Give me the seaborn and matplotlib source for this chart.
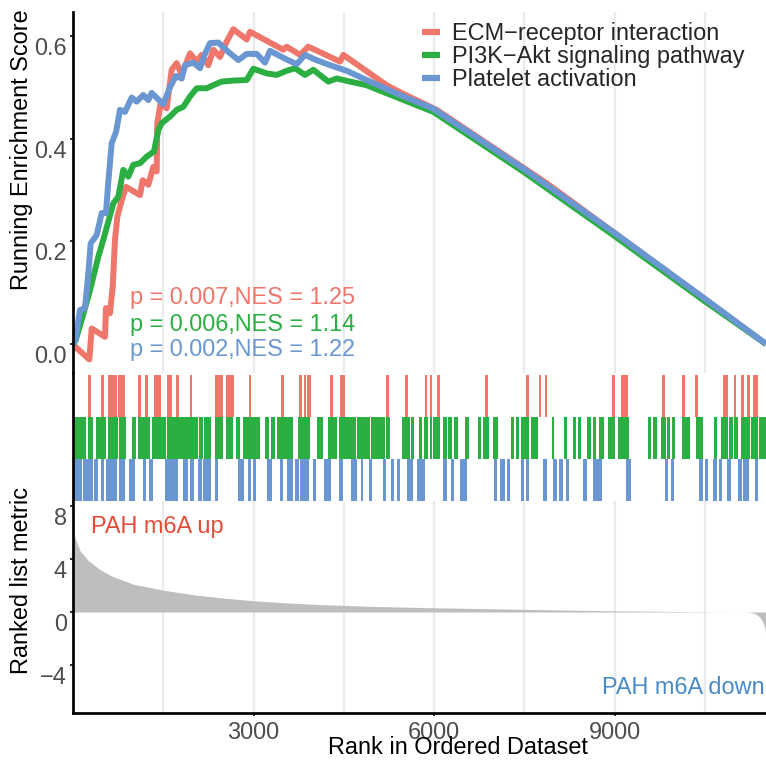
import numpy as np
import pandas as pd
import matplotlib
matplotlib.use("Agg")
import matplotlib.pyplot as plt
import matplotlib.transforms as mtransforms
from matplotlib.lines import Line2D
import seaborn as sns

# ---------------- data ----------------
N_GENES = 11518

gene_sets = ["ECM\u2212receptor interaction", "PI3K\u2212Akt signaling pathway", "Platelet activation"]
set_colors = ["#EE766B", "#2BAE42", "#6A97D2"]
p_values = ["0.007", "0.006", "0.002"]
nes_values = ["1.25", "1.14", "1.22"]

# running enrichment score (rank, ES)
ecm_curve = [(1, 0.0), (61, -0.008), (271, -0.030), (311, 0.030), (532, 0.014), (548, 0.070),
             (615, 0.060), (660, 0.112), (698, 0.203), (737, 0.248), (809, 0.280), (881, 0.306),
             (1113, 0.290), (1158, 0.319), (1252, 0.310), (1335, 0.345), (1391, 0.336),
             (1401, 0.430), (1457, 0.469), (1557, 0.459), (1640, 0.534), (1723, 0.547),
             (1806, 0.524), (1945, 0.566), (2056, 0.550), (2139, 0.563), (2249, 0.543),
             (2332, 0.573), (2443, 0.559), (2554, 0.589), (2664, 0.613), (2887, 0.593),
             (2942, 0.608), (3496, 0.573), (3551, 0.579), (3773, 0.563), (3911, 0.579),
             (4438, 0.550), (4493, 0.563), (5213, 0.504), (5440, 0.490), (6044, 0.456),
             (6876, 0.391), (7873, 0.313), (8980, 0.218), (10504, 0.087), (11518, 0.0)]

pi3k_curve = [(1, 0.0), (40, 0.006), (144, 0.047), (283, 0.105), (421, 0.170), (504, 0.203),
              (670, 0.274), (753, 0.287), (836, 0.339), (919, 0.326), (1002, 0.349),
              (1113, 0.352), (1225, 0.365), (1346, 0.375), (1418, 0.417), (1474, 0.430),
              (1612, 0.443), (1723, 0.456), (1834, 0.462), (1945, 0.482), (2056, 0.498),
              (2222, 0.498), (2332, 0.504), (2471, 0.511), (2664, 0.513), (2887, 0.514),
              (2997, 0.536), (3219, 0.527), (3385, 0.524), (3551, 0.532), (3690, 0.537),
              (3856, 0.524), (3994, 0.534), (4243, 0.511), (4383, 0.517), (4604, 0.511),
              (4881, 0.504), (5047, 0.496), (5435, 0.478), (5990, 0.452), (7480, 0.336),
              (8980, 0.212), (10504, 0.083), (11518, 0.0)]

platelet_curve = [(1, 0.0), (40, 0.008), (116, 0.066), (199, 0.070), (255, 0.138), (294, 0.196),
                  (393, 0.212), (477, 0.255), (548, 0.255), (587, 0.316), (643, 0.391),
                  (715, 0.413), (781, 0.456), (864, 0.452), (976, 0.480), (1058, 0.472),
                  (1169, 0.485), (1252, 0.475), (1307, 0.489), (1501, 0.467), (1612, 0.500),
                  (1712, 0.522), (1806, 0.517), (1861, 0.543), (2000, 0.548), (2111, 0.537),
                  (2194, 0.565), (2277, 0.586), (2415, 0.587), (2581, 0.569), (2748, 0.553),
                  (2887, 0.565), (3053, 0.565), (3191, 0.548), (3274, 0.571), (3551, 0.554),
                  (3718, 0.545), (3856, 0.563), (4022, 0.554), (4271, 0.543), (4549, 0.532),
                  (4881, 0.514), (5435, 0.485), (5990, 0.458), (7480, 0.342), (8980, 0.218),
                  (10504, 0.088), (11518, 0.0)]

# gene-set hit positions (ranks); ECM as single hits, others as runs of adjacent hits
ecm_hits = [271, 494, 603, 643, 670, 715, 770, 810, 848, 1102, 1225, 1374, 1408, 1446, 1591,
            1629, 1741, 1961, 2377, 2422, 2472, 2571, 2621, 2654, 2942, 3485, 3784, 3856, 3906,
            3939, 4300, 4466, 4492, 5224, 5546, 5867, 5950, 6071, 6876, 7557, 7761, 7861, 8980,
            9136, 9174, 9202, 9811, 10143, 10366, 10820, 10865, 11002, 11124, 11223, 11318, 11363]

pi3k_runs = [(17, 216), (254, 327), (382, 548), (577, 753), (770, 876), (976, 1047), (1085, 1280),
             (1308, 1546), (1567, 2083), (2099, 2156), (2177, 2289), (2360, 2488), (2538, 2654),
             (2704, 2776), (2820, 3108), (3191, 3263), (3286, 3357), (3386, 3651), (3745, 3939),
             (4060, 4150), (4233, 4393), (4426, 4703), (4715, 4881), (4891, 4936), (4948, 5185),
             (5202, 5268), (5463, 5601), (5613, 5667), (5751, 5805), (5839, 5905), (5933, 5962),
             (5978, 6100), (6154, 6211), (6238, 6304), (6332, 6404), (6515, 6586), (6726, 6776),
             (6809, 6919), (6985, 7059), (7280, 7334), (7363, 7418), (7441, 7584), (7612, 7733),
             (7956, 7999), (8165, 8215), (8315, 8360), (8398, 8443), (8548, 8609), (8637, 8692),
             (8742, 8825), (8897, 9013), (9063, 9246), (9552, 9601), (9635, 9711), (9773, 9851),
             (9867, 9922), (9955, 10010), (10127, 10255), (10349, 10476), (10658, 10698),
             (10770, 10891), (10908, 10974), (10991, 11057), (11102, 11252), (11268, 11390),
             (11406, 11517)]

platelet_runs = [(17, 145), (171, 327), (354, 420), (460, 520), (543, 726), (765, 864), (936, 1025),
                 (1158, 1213), (1268, 1325), (1529, 1740), (1833, 1906), (1945, 2011), (2082, 2149),
                 (2166, 2294), (2360, 2415), (2737, 2842), (2904, 2958), (2987, 3037), (3219, 3312),
                 (3440, 3495), (3562, 3651), (3695, 3761), (3773, 3927), (3984, 4034), (4172, 4288),
                 (4426, 4482), (4620, 4715), (4782, 4825), (4920, 4964), (5147, 5197), (5285, 5340),
                 (5380, 5435), (5546, 5656), (5722, 5850), (6154, 6211), (6277, 6332), (6432, 6543),
                 (7002, 7052), (7097, 7180), (7208, 7263), (7441, 7496), (7529, 7584), (7806, 7873),
                 (7983, 8039), (8082, 8149), (8194, 8249), (8481, 8537), (8637, 8721), (8731, 8797),
                 (9191, 9269), (9839, 9894), (9939, 9994), (10409, 10466), (10504, 10559),
                 (10642, 10698), (10737, 10791), (10875, 10931), (11057, 11114), (11140, 11235),
                 (11335, 11390)]

# ranked list metric
metric_rank = [1, 50, 120, 250, 450, 650, 1000, 1500, 2000, 2500, 3000, 3500, 4000, 4500, 5000,
               6000, 7000, 8000, 9000, 10000, 10600, 11200, 11330, 11420, 11470, 11500, 11518]
metric_value = [6.0, 5.4, 4.6, 3.9, 3.2, 2.7, 2.1, 1.65, 1.3, 1.05, 0.85, 0.7, 0.58, 0.5, 0.42,
                0.32, 0.24, 0.16, 0.09, 0.04, 0.01, 0.0, -0.1, -0.4, -0.8, -1.2, -1.8]

es_ticks = [0.0, 0.2, 0.4, 0.6]
es_tick_labels = ["0.0", "0.2", "0.4", "0.6"]
metric_ticks = [-4, 0, 4, 8]
metric_tick_labels = ["\u22124", "0", "4", "8"]
rank_ticks = [3000, 6000, 9000]
rank_tick_labels = ["3000", "6000", "9000"]
rank_minor = [1500, 4500, 7500, 10500]

# ---------------- style ----------------
sns.set_theme(style="white")
plt.rcParams["font.family"] = ["Liberation Sans", "DejaVu Sans"]
FS = 16.9
TICK_COL = "#4D4D4D"
GRID_COL = "#EBEBEB"

W, H = 766, 765
fig = plt.figure(figsize=(W / 100, H / 100), dpi=100)


def fx(px):
    return px / W


def fy(py):
    return 1 - py / H


L, R = 73, 766
ax_es = fig.add_axes([fx(L), fy(373), fx(R) - fx(L), fy(12) - fy(373)])
ax_rug = fig.add_axes([fx(L), fy(501), fx(R) - fx(L), fy(373) - fy(501)])
ax_rank = fig.add_axes([fx(L), fy(713), fx(R) - fx(L), fy(501) - fy(713)])

label_shift = mtransforms.ScaledTranslation(0, -10 / 100, fig.dpi_scale_trans)


def style_axis(ax, show_x):
    for s in ["top", "right"]:
        ax.spines[s].set_visible(False)
    ax.spines["left"].set_color("black")
    ax.spines["left"].set_linewidth(1.95)
    if show_x:
        ax.spines["bottom"].set_color("black")
        ax.spines["bottom"].set_linewidth(1.95)
    else:
        ax.spines["bottom"].set_visible(False)
    ax.set_xlim(0, N_GENES)
    ax.set_xlabel("")
    ax.set_ylabel("")


# ---- ES panel ----
curves = [ecm_curve, pi3k_curve, platelet_curve]
frames = []
for name, cur in zip(gene_sets, curves):
    frames.append(pd.DataFrame({"rank": [c[0] for c in cur], "es": [c[1] for c in cur], "set": name}))
es_df = pd.concat(frames, ignore_index=True)

ax_es.set_xticks(rank_ticks)
ax_es.set_xticks(rank_minor, minor=True)
ax_es.grid(True, axis="x", which="both", color=GRID_COL, linewidth=1.6)
ax_es.set_axisbelow(True)
sns.lineplot(data=es_df, x="rank", y="es", hue="set", hue_order=gene_sets, palette=set_colors,
             estimator=None, sort=False, linewidth=4.3, legend=False, ax=ax_es,
             solid_capstyle="butt", solid_joinstyle="round")
style_axis(ax_es, False)
ax_es.set_ylim(-(373 - 344) / 513.5, (344 - 12) / 513.5)
ax_es.set_yticks(es_ticks)
ax_es.set_yticklabels(es_tick_labels)
ax_es.tick_params(axis="x", which="both", bottom=False, labelbottom=False)
ax_es.tick_params(axis="y", left=True, length=2.2, width=1.4, color="#333333", pad=2.2,
                  labelsize=FS, labelcolor=TICK_COL)
for lab in ax_es.get_yticklabels():
    lab.set_transform(lab.get_transform() + label_shift)

handles = [Line2D([], [], color=c, lw=4.5, solid_capstyle="butt") for c in set_colors]
ax_es.legend(handles, gene_sets, loc="upper left", bbox_to_anchor=(fx(422), fy(22)),
             bbox_transform=fig.transFigure, frameon=False, fontsize=FS, handlelength=0.77,
             handletextpad=0.51, labelspacing=0.0, borderpad=0, borderaxespad=0)

for i, (c, p, n) in enumerate(zip(set_colors, p_values, nes_values)):
    fig.text(fx(130), fy(298 + 26 * i), f"p = {p},NES = {n}", color=c, fontsize=FS,
             ha="left", va="center")

# ---- rug panel ----
ecm_w = 46
ax_rug.bar(ecm_hits, 1.0, bottom=2, width=ecm_w, color=set_colors[0], linewidth=0, align="center")
ax_rug.bar([(a + b) / 2 for a, b in pi3k_runs], 1.0, bottom=1,
           width=[b - a for a, b in pi3k_runs], color=set_colors[1], linewidth=0, align="center")
ax_rug.bar([(a + b) / 2 for a, b in platelet_runs], 1.0, bottom=0,
           width=[b - a for a, b in platelet_runs], color=set_colors[2], linewidth=0, align="center")
style_axis(ax_rug, False)
ax_rug.set_ylim(-0.01, 3.05)
ax_rug.set_xticks([])
ax_rug.set_yticks([])

# ---- ranked list panel ----
ax_rank.set_xticks(rank_ticks)
ax_rank.set_xticks(rank_minor, minor=True)
ax_rank.grid(True, axis="x", which="both", color=GRID_COL, linewidth=1.6)
ax_rank.set_axisbelow(True)
ax_rank.fill_between(metric_rank, 0, metric_value, color="#BEBEBE", linewidth=0)
style_axis(ax_rank, True)
ax_rank.set_ylim(-(713 - 612) / 13.25, (612 - 501) / 13.25)
ax_rank.set_yticks(metric_ticks)
ax_rank.set_yticklabels(metric_tick_labels)
ax_rank.set_xticklabels(rank_tick_labels)
ax_rank.tick_params(axis="x", which="major", bottom=True, length=2.2, width=1.4, color="#333333",
                    pad=3.5, labelsize=FS, labelcolor=TICK_COL)
ax_rank.tick_params(axis="x", which="minor", bottom=False)
ax_rank.tick_params(axis="y", left=True, length=2.2, width=1.4, color="#333333", pad=2.2,
                    labelsize=FS, labelcolor=TICK_COL)
for lab in ax_rank.get_yticklabels():
    lab.set_transform(lab.get_transform() + label_shift)

fig.text(fx(91), fy(527), "PAH m6A up", color="#E64B35", fontsize=FS, ha="left", va="center")
fig.text(fx(765), fy(687), "PAH m6A down", color="#4A8AC8", fontsize=FS, ha="right", va="center")

# axis titles
fig.text(fx(22), fy(150), "Running Enrichment Score", rotation=90, fontsize=FS, color="black",
         ha="center", va="center")
fig.text(fx(22), fy(580), "Ranked list metric", rotation=90, fontsize=FS, color="black",
         ha="center", va="center")
fig.text(fx(458), fy(748), "Rank in Ordered Dataset", fontsize=FS, color="black",
         ha="center", va="center")

fig.savefig("out.png", dpi=100)
